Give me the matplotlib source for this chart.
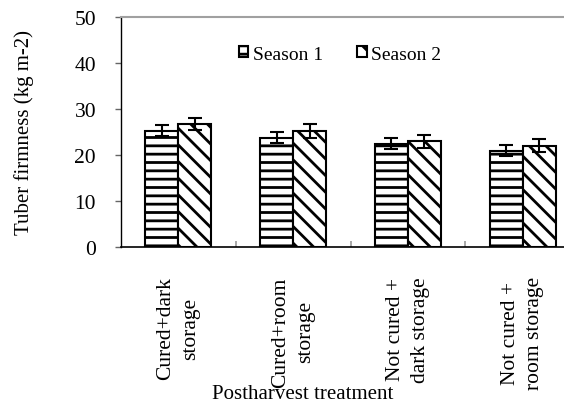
import matplotlib
matplotlib.use("Agg")
import matplotlib.pyplot as plt
import numpy as np

categories = ["Cured+dark\nstorage", "Cured+room\nstorage", "Not cured +\ndark storage", "Not cured +\nroom storage"]
season1 = [25.3, 23.8, 22.5, 20.9]
season2 = [26.8, 25.2, 23.0, 22.0]
err1 = [1.2, 1.1, 1.15, 1.2]
err2 = [1.3, 1.45, 1.45, 1.45]
series_names = ["Season 1", "Season 2"]
yticks = [0, 10, 20, 30, 40, 50]

plt.rcParams['font.family'] = ['Liberation Serif', 'DejaVu Serif']
plt.rcParams['hatch.linewidth'] = 2.0
plt.rcParams['hatch.color'] = 'black'

W, H = 564, 406
fig = plt.figure(figsize=(W/100, H/100), dpi=100)
ax = fig.add_axes([121/W, (H-248)/H, 459/W, 230/H])

x = np.arange(len(categories))
bw = 0.288
ax.bar(x - bw/2, season1, bw, color='white', edgecolor='black', linewidth=1.5,
       hatch='--', label=series_names[0], zorder=2)
ax.bar(x + bw/2, season2, bw, color='white', edgecolor='black', linewidth=1.5,
       hatch='\\\\', label=series_names[1], zorder=2)
ax.errorbar(x - bw/2, season1, yerr=err1, fmt='none', ecolor='black', elinewidth=1.5,
            capsize=5, capthick=1.5, zorder=3)
ax.errorbar(x + bw/2, season2, yerr=err2, fmt='none', ecolor='black', elinewidth=1.5,
            capsize=5, capthick=1.5, zorder=3)

ax.set_xlim(-0.5, len(categories) - 0.5)
ax.set_ylim(0, 50)
ax.set_yticks(yticks)
ax.tick_params(axis='y', direction='out', length=4, width=1, color='#666666', pad=14,
               labelsize=15.5)
ax.set_xticks(x)
ax.set_xticklabels(categories, rotation=90, ha='center', va='top', multialignment='center',
                   fontsize=15.5, linespacing=1.4)
ax.tick_params(axis='x', which='major', length=0, pad=21)
ax.set_xticks(np.arange(0.5, len(categories) - 0.5, 1), minor=True)
ax.tick_params(axis='x', which='minor', direction='in', length=4, width=1.2, color='#999999')

ax.spines['left'].set_color('black')
ax.spines['left'].set_linewidth(1.0)
ax.spines['bottom'].set_color('black')
ax.spines['bottom'].set_linewidth(1.2)
ax.spines['top'].set_color('#a0a0a0')
ax.spines['top'].set_linewidth(1.5)
ax.spines['right'].set_visible(False)

ax.set_ylabel("Tuber firmness (kg m-2)", fontsize=15)
ax.yaxis.set_label_coords(-0.19, 0.5)
fig.text(303/W, (H-395)/H, "Postharvest treatment", ha='center', va='center', fontsize=15)

ax.legend(loc='center', bbox_to_anchor=(0.478, 0.838), ncol=2, frameon=False,
          handlelength=0.47, handleheight=0.47, handletextpad=0.25, columnspacing=1.75,
          fontsize=14, borderpad=0)

fig.savefig("out.png", dpi=100)
